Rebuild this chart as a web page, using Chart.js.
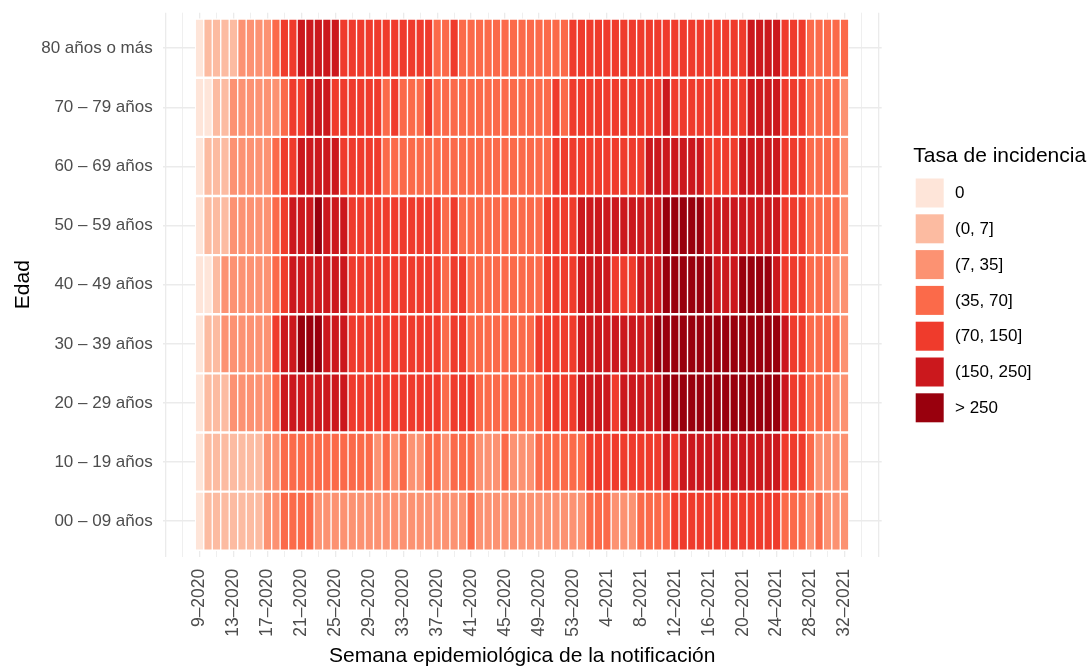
<!DOCTYPE html>
<html>
<head>
<meta charset="utf-8">
<script src="https://cdn.jsdelivr.net/npm/chart.js@4.4.1/dist/chart.umd.min.js"></script>
<style>
  html, body { margin: 0; padding: 0; background: #ffffff; }
  #wrap { width: 1091px; height: 669px; position: relative; }
</style>
</head>
<body>
<div id="wrap"><canvas id="c"></canvas></div>
<script>
// ---------- DATA ----------
const weeks = [
  "9–2020","10–2020","11–2020","12–2020","13–2020","14–2020","15–2020","16–2020","17–2020","18–2020",
  "19–2020","20–2020","21–2020","22–2020","23–2020","24–2020","25–2020","26–2020","27–2020","28–2020",
  "29–2020","30–2020","31–2020","32–2020","33–2020","34–2020","35–2020","36–2020","37–2020","38–2020",
  "39–2020","40–2020","41–2020","42–2020","43–2020","44–2020","45–2020","46–2020","47–2020","48–2020",
  "49–2020","50–2020","51–2020","52–2020","53–2020",
  "1–2021","2–2021","3–2021","4–2021","5–2021","6–2021","7–2021","8–2021","9–2021","10–2021",
  "11–2021","12–2021","13–2021","14–2021","15–2021","16–2021","17–2021","18–2021","19–2021","20–2021",
  "21–2021","22–2021","23–2021","24–2021","25–2021","26–2021","27–2021","28–2021","29–2021","30–2021",
  "31–2021","32–2021"
];
const tickWeeks = ["9–2020","13–2020","17–2020","21–2020","25–2020","29–2020","33–2020","37–2020","41–2020",
  "45–2020","49–2020","53–2020","4–2021","8–2021","12–2021","16–2021","20–2021","24–2021","28–2021","32–2021"];

const ageGroups = ["00 – 09 años","10 – 19 años","20 – 29 años","30 – 39 años","40 – 49 años",
  "50 – 59 años","60 – 69 años","70 – 79 años","80 años o más"];

const rateClasses = ["0","(0, 7]","(7, 35]","(35, 70]","(70, 150]","(150, 250]","> 250"];
const classColors = ["#FEE5D9","#FCBBA1","#FC9272","#FB6A4A","#EF3B2C","#CB181D","#99000D"];

// class index (into rateClasses) per week, one array per age group
const age00_09 = [0,1,1,1,1,1,1,1,2,2,3,3,3, 3,2,2,2,2,2,2,2,2,2,2,2,2, 2,2,2,2,2,2,3,2,2,2,2,2,2, 2,2,2,2,2,2,2,3,3,3,2,2,2, 3,3,3,3,4,4,4,4,4,4,4,4,4, 4,4,4,4,3,3,3,2,3,2,2,2];
const age10_19 = [0,1,1,1,1,1,1,1,2,2,3,3,3, 3,3,3,3,3,3,3,3,2,3,2,3,2, 2,3,3,2,3,3,3,2,2,2,3,2,2, 2,3,3,3,3,3,3,4,4,4,4,4,4, 4,4,4,5,4,5,5,5,5,5,5,5,5, 5,5,5,5,4,4,4,3,2,2,2,2];
const age20_29 = [0,1,1,1,2,2,2,2,2,3,5,5,5, 5,5,5,5,5,4,4,4,4,4,4,4,4, 4,4,4,3,4,4,4,3,3,3,3,3,3, 3,3,4,4,4,4,5,5,5,5,4,5,5, 5,5,5,6,6,6,6,6,6,6,6,6,6, 6,6,6,6,5,4,4,3,3,3,2,2];
const age30_39 = [0,1,1,2,2,2,2,2,2,4,5,5,6, 6,6,5,5,5,4,4,4,4,4,4,4,4, 4,4,4,3,4,4,3,3,3,3,3,3,3, 3,4,4,4,4,4,5,5,5,5,5,5,5, 5,5,6,6,6,6,6,6,6,6,6,6,6, 6,6,6,6,5,4,4,3,3,3,3,2];
const age40_49 = [0,0,1,2,2,2,2,2,2,3,4,5,5, 5,5,5,5,5,4,4,4,4,4,4,4,4, 4,4,4,3,4,4,3,3,3,3,3,3,3, 3,3,4,4,4,4,5,5,5,5,4,4,4, 5,5,5,6,6,6,6,6,6,5,5,5,6, 6,6,6,5,4,4,4,3,3,3,2,2];
const age50_59 = [0,1,1,1,2,2,2,2,2,3,4,5,5, 5,6,5,5,5,4,4,4,4,4,4,4,4, 4,4,4,3,4,3,3,3,3,3,3,3,3, 3,3,4,4,4,4,5,5,5,5,5,5,5, 5,5,5,6,6,6,6,6,5,5,5,5,5, 5,5,5,5,4,4,4,3,3,3,3,2];
const age60_69 = [0,1,1,1,2,2,2,2,2,3,4,4,5, 5,5,5,5,4,4,4,4,4,3,3,3,3, 3,3,3,3,3,3,3,3,3,3,3,3,3, 3,3,3,4,4,4,4,4,4,4,4,4,4, 4,5,5,5,5,5,5,5,4,4,4,4,5, 5,5,5,5,4,4,4,3,3,3,3,2];
const age70_79 = [0,0,1,1,2,2,2,2,2,2,3,4,4, 5,5,5,4,4,4,4,4,4,3,4,3,3, 3,4,3,3,3,3,3,3,3,3,3,3,3, 3,3,3,4,3,4,4,4,4,4,4,4,4, 4,4,4,5,4,4,4,4,4,4,4,4,4, 5,5,5,5,4,4,4,3,3,3,3,2];
const age80plus = [0,1,1,1,1,2,2,2,2,3,4,4,5, 5,5,5,5,4,4,4,4,4,4,4,4,4, 4,4,3,3,4,3,3,3,3,3,3,3,3, 3,3,3,3,3,4,4,4,4,4,4,4,4, 4,4,4,4,4,4,4,4,4,4,4,4,4, 5,5,5,5,4,4,4,3,3,3,3,3];

const rows = [age00_09, age10_19, age20_29, age30_39, age40_49, age50_59, age60_69, age70_79, age80plus];

// ---------- CHART ----------
const FONT = '"Liberation Sans", Arial, Helvetica, sans-serif';

const datasets = rows.map((row, r) => ({
  label: ageGroups[r],
  data: weeks.map((w, i) => ({ x: i, y: [r - 0.5, r + 0.5] })),
  backgroundColor: row.map(c => classColors[c]),
  borderColor: '#ffffff',
  borderWidth: { top: 1.5, bottom: 1.5, left: 1, right: 1 },
  borderSkipped: false,
  grouped: false,
  barPercentage: 1,
  categoryPercentage: 1
}));

const legendPlugin = {
  id: 'rateLegend',
  afterDraw(chart) {
    const ctx = chart.ctx;
    ctx.save();
    ctx.fillStyle = '#000000';
    ctx.font = '21px ' + FONT;
    ctx.textAlign = 'left';
    ctx.textBaseline = 'alphabetic';
    ctx.fillText('Tasa de incidencia', 913.3, 161.7);
    ctx.font = '17px ' + FONT;
    ctx.textBaseline = 'middle';
    rateClasses.forEach((lab, k) => {
      const top = 178.5 + k * 35.8;
      ctx.fillStyle = classColors[k];
      ctx.fillRect(915.7, top, 28, 29);
      ctx.fillStyle = '#000000';
      ctx.fillText(lab, 955, top + 15);
    });
    ctx.restore();
  }
};

new Chart(document.getElementById('c'), {
  type: 'bar',
  data: { datasets },
  plugins: [legendPlugin],
  options: {
    responsive: true,
    maintainAspectRatio: false,
    animation: false,
    layout: { padding: { left: 0, right: 209.3, top: 12.7, bottom: 0 } },
    plugins: { legend: { display: false }, tooltip: { enabled: false } },
    scales: {
      x: {
        type: 'linear',
        min: -4.34,
        max: 80.38,
        offset: false,
        afterBuildTicks(scale) {
          const t = [];
          for (let v = -4; v <= 80; v += 2) t.push({ value: v });
          scale.ticks = t;
        },
        afterFit(scale) {
          scale.height = 112.3;
          scale.paddingLeft = 0; scale.paddingRight = 0;
          scale.paddingTop = 0; scale.paddingBottom = 0;
        },
        ticks: {
          autoSkip: false,
          minRotation: 90,
          maxRotation: 90,
          padding: 12,
          color: '#4D4D4D',
          font: { family: FONT, size: 17.5 },
          callback(v) {
            const w = weeks[v];
            return (w !== undefined && tickWeeks.includes(w)) ? w : '';
          }
        },
        grid: {
          offset: false,
          drawTicks: false,
          color: '#EBEBEB',
          lineWidth: (c) => (c.tick && c.tick.value % 4 === 0) ? 1.3 : 0.8
        },
        border: { display: false },
        title: {
          display: true,
          text: 'Semana epidemiológica de la notificación',
          color: '#000000',
          font: { family: FONT, size: 21 },
          padding: { top: 4, bottom: 0 }
        }
      },
      y: {
        type: 'linear',
        min: -0.6,
        max: 8.6,
        afterBuildTicks(scale) {
          scale.ticks = ageGroups.map((g, i) => ({ value: i }));
        },
        afterFit(scale) {
          scale.width = 162.7;
          scale.paddingTop = 0; scale.paddingBottom = 0;
          scale.paddingLeft = 0; scale.paddingRight = 0;
        },
        ticks: {
          padding: 10,
          color: '#4D4D4D',
          font: { family: FONT, size: 17 },
          callback(v) { return ageGroups[v]; }
        },
        grid: { drawTicks: false, color: '#EBEBEB', lineWidth: 1.6 },
        border: { display: false },
        title: {
          display: true,
          text: 'Edad',
          color: '#000000',
          font: { family: FONT, size: 21 },
          padding: { top: 11, bottom: 0 }
        }
      }
    }
  }
});
</script>
</body>
</html>
